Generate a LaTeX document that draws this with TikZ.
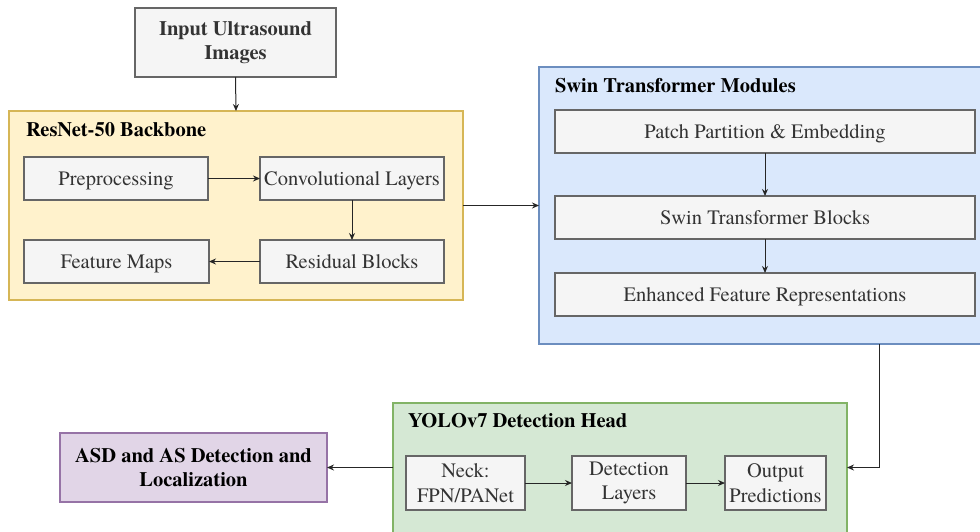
\documentclass[tikz,border=0pt]{standalone}
\usepackage{fontspec}
\setmainfont{texgyretermes}[Extension=.otf, UprightFont=*-regular, BoldFont=*-bold,
  ItalicFont=*-italic, BoldItalicFont=*-bolditalic]
\usetikzlibrary{arrows.meta,calc}

\definecolor{boxfill}{HTML}{F5F5F5}
\definecolor{boxline}{HTML}{666666}
\definecolor{boxtext}{HTML}{333333}
\definecolor{yelfill}{HTML}{FFF2CC}
\definecolor{yelline}{HTML}{D6B656}
\definecolor{bluefill}{HTML}{DAE8FC}
\definecolor{blueline}{HTML}{6C8EBF}
\definecolor{grnfill}{HTML}{D5E8D4}
\definecolor{grnline}{HTML}{82B366}
\definecolor{purfill}{HTML}{E1D5E7}
\definecolor{purline}{HTML}{9673A6}

\tikzset{
  every node/.style={font=\fontsize{20.5}{24.5}\selectfont, inner sep=0pt, outer sep=0pt},
  stage/.style={draw=boxline, fill=boxfill, line width=1.3pt, text=boxtext,
    minimum width=#1, align=center},
  stage/.default=184pt,
  oneline/.style={text height=17.6pt, text depth=4.4pt},
  group/.style={line width=1.3pt},
  grouptitle/.style={anchor=west, font=\fontsize{20.5}{24.5}\selectfont\bfseries},
  flow/.style={draw=black!85, line width=1pt, -{Stealth[length=7pt,width=6pt]}}
}

\begin{document}
\begin{tikzpicture}[x=1pt,y=-1pt]
\useasboundingbox (0,0) rectangle (980,531);
\clip (0,0) rectangle (980,531);

% input
\node[stage=201pt, minimum height=69pt, font=\fontsize{20.5}{24.5}\selectfont\bfseries]
  (in) at (235.5,42.5) {Input Ultrasound\\Images};

% ResNet-50 backbone group
\node[group, draw=yelline, fill=yelfill, minimum width=454pt, minimum height=189pt]
  (resnet) at (236,205.5) {};
\node[grouptitle] (resnettitle) at (26,130) {ResNet-50 Backbone};
\node[stage, oneline, minimum height=43pt] (pre) at (116,178.5) {Preprocessing};
\node[stage, oneline, minimum height=43pt] (conv) at (352,178.5) {Convolutional Layers};
\node[stage=185pt, oneline, minimum height=43pt] (fmap) at (116.5,261.5) {Feature Maps};
\node[stage, oneline, minimum height=43pt] (res) at (352,261.5) {Residual Blocks};

% Swin transformer group
\node[group, draw=blueline, fill=bluefill, minimum width=446pt, minimum height=277pt]
  (swin) at (762,205.5) {};
\node[grouptitle] (swintitle) at (555,86) {Swin Transformer Modules};
\node[stage=420pt, oneline, minimum height=43pt] (patch) at (765,131.5) {Patch Partition \& Embedding};
\node[stage=420pt, oneline, minimum height=43pt] (sblocks) at (765,217.5) {Swin Transformer Blocks};
\node[stage=420pt, oneline, minimum height=43pt] (enh) at (765,294.5) {Enhanced Feature Representations};

% YOLOv7 detection head group
\node[group, draw=grnline, fill=grnfill, minimum width=454pt, minimum height=137pt]
  (yolo) at (620,471.5) {};
\node[grouptitle] (yolotitle) at (408,421) {YOLOv7 Detection Head};
\node[stage=119pt, minimum height=54pt] (neck) at (465.5,483) {Neck:\\FPN/PANet};
\node[stage=114pt, minimum height=54pt] (det) at (629,483) {Detection\\Layers};
\node[stage=101pt, minimum height=54pt] (out) at (775.5,483) {Output\\Predictions};

% result
\node[draw=purline, fill=purfill, line width=1.3pt, minimum width=267pt, minimum height=69pt,
  align=center, font=\fontsize{20.5}{24.5}\selectfont\bfseries]
  (asd) at (193.5,467.5) {ASD and AS Detection and\\Localization};

\coordinate (tap) at (879,344);

% connectors
\draw[flow] (in.south) -- (resnet.north);
\draw[flow] (pre.east) -- (conv.west);
\draw[flow] (conv.south) -- (res.north);
\draw[flow] (res.west) -- (fmap.east);
\draw[flow] (resnet.east) -- (swin.west);
\draw[flow] (patch.south) -- (sblocks.north);
\draw[flow] (sblocks.south) -- (enh.north);
\draw[flow] (tap) |- (yolo.east |- asd.east);
\draw[flow] (yolo.west |- asd.east) -- (asd.east);
\draw[flow] (neck.east) -- (det.west);
\draw[flow] (det.east) -- (out.west);
\end{tikzpicture}
\end{document}
